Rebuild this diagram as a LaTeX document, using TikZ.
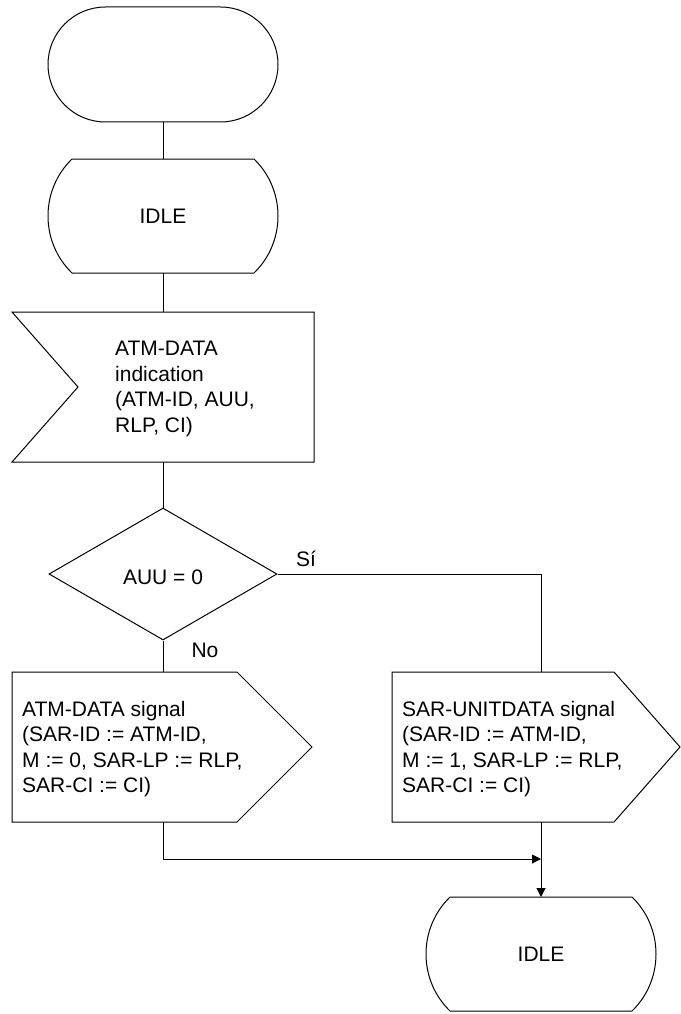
\documentclass[tikz,border=0pt]{standalone}
\usepackage{fontspec}
\setmainfont{Liberation Sans}
\usetikzlibrary{shapes.geometric,shapes.misc,arrows.meta}
\begin{document}
\begin{tikzpicture}[x=1pt,y=-1pt,
  every node/.style={font=\fontsize{21}{25.5}\selectfont},
  line/.style={line width=1pt,draw=black},
  arr/.style={line, -{Triangle[length=9pt,width=9pt]}},
  frame/.style={draw=none, inner sep=0pt, outer sep=0pt},
  txt/.style={align=left, anchor=west, inner sep=0pt},
  lbl/.style={inner sep=0pt}]
\useasboundingbox (0,0) rectangle (680,1014);

% start terminator
\node[rounded rectangle, line, minimum width=230pt, minimum height=115pt, inner sep=0pt] (start) at (163,64.5) {};

% IDLE state 1
\node[frame, minimum width=230pt, minimum height=114pt] (idle1) at (163,216) {IDLE};
\begin{scope}[shift={(idle1.center)}]
\draw[line] (-91,-57) -- (91,-57) .. controls (123,-26) and (123,26) .. (91,57)
  -- (-91,57) .. controls (-123,26) and (-123,-26) .. cycle;
\end{scope}

% input symbol
\node[frame, minimum width=302pt, minimum height=150pt] (inp) at (163,387) {};
\draw[line] (inp.north west) -- (inp.north east) -- (inp.south east) -- (inp.south west)
  -- ([xshift=66pt]inp.west) -- cycle;
\node[txt] (inptxt) at (115,389) {ATM-DATA\\indication\\(ATM-ID, AUU,\\RLP, CI)};

% decision
\node[diamond, line, minimum width=228pt, minimum height=132pt, inner sep=0pt] (dec) at (163,574) {};
\node[lbl] (dectxt) at (163,577) {AUU = 0};
\node[lbl] (si) at (306,559) {Sí};
\node[lbl] (no) at (205,650) {No};

% left output
\node[frame, minimum width=300pt, minimum height=150pt] (outL) at (162,747) {};
\draw[line] (outL.north west) -- ([xshift=-75pt]outL.north east) -- (outL.east)
  -- ([xshift=-75pt]outL.south east) -- (outL.south west) -- cycle;
\node[txt] (outLtxt) at (22,749) {ATM-DATA signal\\(SAR-ID := ATM-ID,\\M := 0, SAR-LP := RLP,\\SAR-CI := CI)};

% right output
\node[frame, minimum width=288pt, minimum height=150pt] (outR) at (536,747) {};
\draw[line] (outR.north west) -- ([xshift=-66pt]outR.north east) -- (outR.east)
  -- ([xshift=-66pt]outR.south east) -- (outR.south west) -- cycle;
\node[txt] (outRtxt) at (402,749) {SAR-UNITDATA signal\\(SAR-ID := ATM-ID,\\M := 1, SAR-LP := RLP,\\SAR-CI := CI)};

% IDLE state 2
\node[frame, minimum width=227pt, minimum height=114pt] (idle2) at (541,954) {IDLE};
\begin{scope}[shift={(idle2.center)}]
\draw[line] (-91,-57) -- (91,-57) .. controls (123,-26) and (123,26) .. (91,57)
  -- (-91,57) .. controls (-123,26) and (-123,-26) .. cycle;
\end{scope}

\coordinate (jx) at (541,859);

% connectors
\draw[line] (start.south) -- (idle1.north);
\draw[line] (idle1.south) -- (idle1.south |- inp.north);
\draw[line] (inp.south) -- (dec.north);
\draw[line] (dec.south) -- (dec.south |- outL.north);
\draw[line] (dec.east) -| (jx |- outR.north);
\draw[arr] (dec.south |- outL.south) |- (jx);
\draw[arr] (jx |- outR.south) -- (idle2.north);
\end{tikzpicture}
\end{document}
